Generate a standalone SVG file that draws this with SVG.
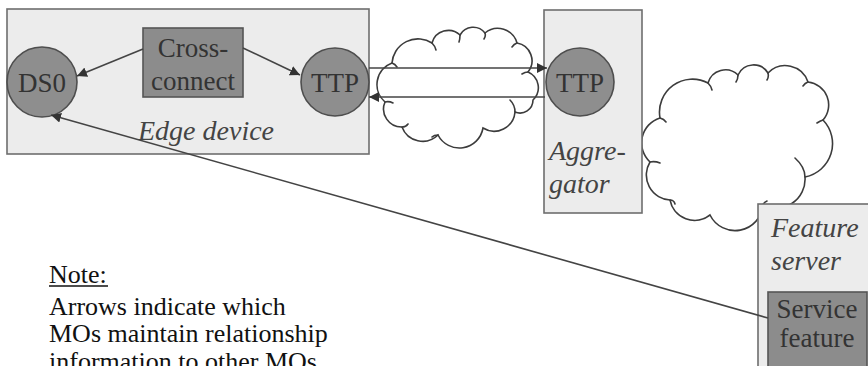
<svg xmlns="http://www.w3.org/2000/svg" width="868" height="366" viewBox="0 0 868 366">
  <style>
    .box { fill: #ececec; stroke: #6e6e6e; stroke-width: 1.6; }
    .mo { fill: #8e8e8e; stroke: #4e4e4e; stroke-width: 1.6; }
    .mo-rect { fill: #8c8c8c; stroke: #555; stroke-width: 1.6; }
    .cloud { fill: none; stroke: #3c3c3c; stroke-width: 1.6; stroke-linecap: round; }
    .link { fill: none; stroke: #444; stroke-width: 1.6; }
    text { font-family: "Liberation Serif", "DejaVu Serif", serif; }
    .node-text { font-size: 27px; fill: #333; text-anchor: middle; }
    .label { font-size: 28px; font-style: italic; fill: #444; }
    .note { font-size: 26px; fill: #111; }
  </style>
  <defs>
    <marker id="arrow" viewBox="0 0 10 10" refX="10" refY="5" markerWidth="10" markerHeight="10" markerUnits="userSpaceOnUse" orient="auto">
      <path d="M0,0 L10,5 L0,10 z" fill="#333"/>
    </marker>
  </defs>

  <rect width="868" height="366" fill="#ffffff"/>

  <!-- Network clouds -->
  <g id="cloud-access">
    <path class="cloud" d="M392,63 A26,26 0 0 1 432,43 A17,17 0 0 1 460,35 A15,15 0 0 1 485,33 A20,20 0 0 1 517,43 A18,18 0 0 1 528,72 A17,17 0 0 1 533,100 A13,13 0 0 1 515,112 A21,21 0 0 1 483,128 A24,24 0 0 1 438,135 A22,22 0 0 1 402,127 A18,18 0 0 1 385,102 A23,23 0 0 1 392,63 Z"/>
    <path class="cloud" d="M432,43 q3,3 4,7 M460,35 q0,4 -1,7 M485,33 q1,3 -1,6 M517,43 q-3,1 -5,4 M528,72 q-3,0 -6,2 M515,112 q0,-7 -5,-12 M402,127 q4,0 6,-3 M385,102 q4,-1 8,1 M392,63 q3,1 5,4 M438,135 q-4,0 -6,2"/>
  </g>
  <g id="cloud-core">
    <path class="cloud" d="M660,118 A33,33 0 0 1 708,83 A18,18 0 0 1 738,75 A17,17 0 0 1 768,73 A24,24 0 0 1 808,82 A23,23 0 0 1 823,120 A34,34 0 0 1 805,177 A29,29 0 0 1 763,205 A28,28 0 0 1 710,215 A25,25 0 0 1 670,200 A25,25 0 0 1 650,162 A26,26 0 0 1 660,118 Z"/>
    <path class="cloud" d="M708,83 q3,3 4,7 M738,75 q0,4 -2,7 M768,73 q1,4 -1,7 M808,82 q-3,1 -5,4 M823,120 q-3,1 -6,3 M805,177 q0,-10 -10,-19 M763,205 q1,-3 4,-4 M670,200 q4,0 5,4 M650,162 q5,-1 10,1 M660,118 q4,1 6,4"/>
  </g>

  <!-- Edge device with its managed objects -->
  <g id="edge-device">
    <rect class="box" x="7" y="9" width="362" height="145"/>
    <text class="label" x="138" y="140">Edge device</text>
  </g>
  <g id="ds0">
    <circle class="mo" cx="42" cy="82" r="35"/>
    <text class="node-text" x="42" y="92">DS0</text>
  </g>
  <g id="cross-connect">
    <rect class="mo-rect" x="143" y="28" width="100" height="69"/>
    <text class="node-text" x="193" y="57">Cross-</text>
    <text class="node-text" x="193" y="90">connect</text>
  </g>
  <g id="ttp-edge">
    <circle class="mo" cx="335" cy="82" r="34"/>
    <text class="node-text" x="335" y="92">TTP</text>
  </g>

  <!-- Aggregator -->
  <g id="aggregator">
    <rect class="box" x="544" y="10" width="98" height="203"/>
    <text class="label" x="549" y="160">Aggre-</text>
    <text class="label" x="549" y="193">gator</text>
  </g>
  <g id="ttp-aggregator">
    <circle class="mo" cx="580" cy="82" r="34"/>
    <text class="node-text" x="580" y="92">TTP</text>
  </g>

  <!-- Feature server -->
  <g id="feature-server">
    <rect class="box" x="758" y="204" width="120" height="180"/>
    <text class="label" x="771" y="237">Feature</text>
    <text class="label" x="771" y="270">server</text>
  </g>
  <g id="service-feature">
    <rect class="mo-rect" x="768" y="292" width="99" height="90"/>
    <text class="node-text" x="817" y="318">Service</text>
    <text class="node-text" x="817" y="347">feature</text>
  </g>

  <!-- Relationship pointers between MOs -->
  <g id="connectors">
    <line class="link" x1="143" y1="49" x2="77" y2="76" marker-end="url(#arrow)"/>
    <line class="link" x1="243" y1="48" x2="300" y2="75" marker-end="url(#arrow)"/>
    <line class="link" x1="369" y1="68" x2="547" y2="68" marker-end="url(#arrow)"/>
    <line class="link" x1="545" y1="97" x2="369" y2="97" marker-end="url(#arrow)"/>
    <line class="link" x1="768" y1="318" x2="51" y2="115" marker-end="url(#arrow)"/>
  </g>

  <!-- Legend -->
  <g id="note">
    <text class="note" x="49" y="283">Note:</text>
    <line x1="49" y1="286" x2="108" y2="286" stroke="#111" stroke-width="1.3"/>
    <text class="note" x="49" y="315">Arrows indicate which</text>
    <text class="note" x="49" y="342">MOs maintain relationship</text>
    <text class="note" x="49" y="370">information to other MOs</text>
  </g>
</svg>
